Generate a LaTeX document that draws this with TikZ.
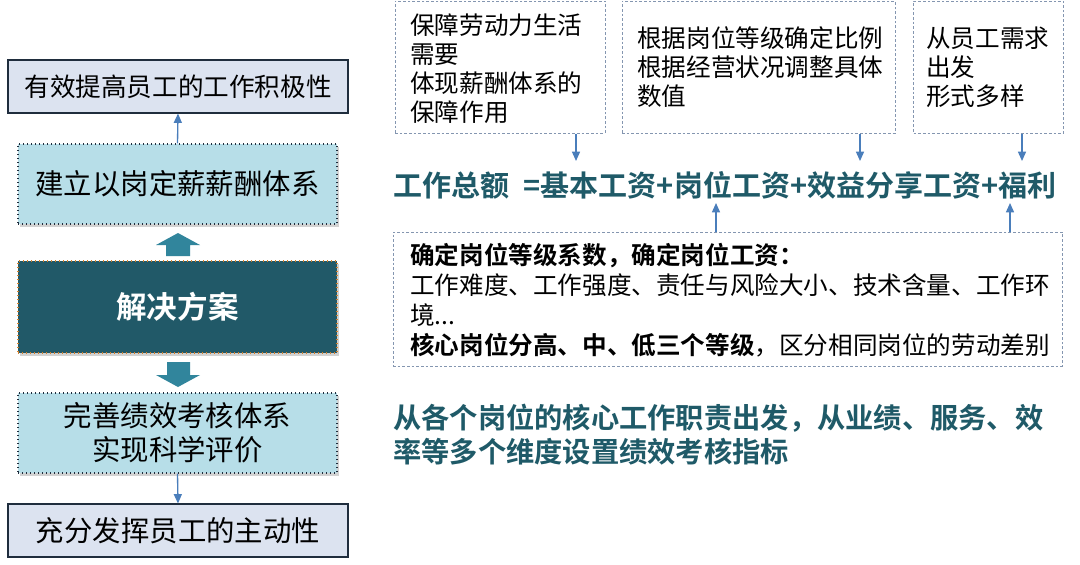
\documentclass[tikz,border=0pt]{standalone}
\usepackage{fontspec}
\setmainfont{Noto Sans CJK SC}[BoldFont={Noto Sans CJK SC Bold}]
\usetikzlibrary{arrows.meta,shadows}
\definecolor{darkteal}{HTML}{215968}
\definecolor{textteal}{HTML}{1F5A68}
\definecolor{blockarrow}{HTML}{31859C}
\definecolor{lightblue}{HTML}{B7DEE8}
\definecolor{lavender}{HTML}{DCE3F0}
\definecolor{thinblue}{HTML}{4A7EBB}
\definecolor{dashgray}{HTML}{8496B0}
\definecolor{boxline}{HTML}{1F2D3D}
\tikzset{
  outerbox/.style={rectangle, draw=boxline, line width=0.8pt, fill=lavender, inner sep=0pt,
    minimum width=255pt, minimum height=39.75pt, font=\fontsize{19.2}{22}\selectfont},
  innerbox/.style={rectangle, draw=boxline, dotted, line width=1pt, fill=lightblue, inner sep=0pt,
    minimum width=239.25pt, minimum height=60pt, align=center,
    font=\fontsize{21.3}{25.5}\selectfont,
    drop shadow={opacity=0.35, shadow xshift=1.5pt, shadow yshift=-2pt}},
  solbox/.style={rectangle, draw=brown!70!orange, dotted, line width=1pt, fill=darkteal, inner sep=0pt,
    minimum width=239.25pt, minimum height=69pt, text=white,
    font=\fontsize{22.9}{27}\selectfont\bfseries,
    drop shadow={opacity=0.35, shadow xshift=1.5pt, shadow yshift=-2pt}},
  dbox/.style={rectangle, draw=dashgray, dash pattern=on 2pt off 1.5pt, line width=0.75pt, inner sep=0pt},
  dtext/.style={anchor=west, align=left, inner sep=0pt, font=\fontsize{18.45}{21.75}\selectfont},
  thinarrow/.style={draw=thinblue, line width=1pt, -{Triangle[length=7pt,width=6pt]}},
  blockar/.style={fill=blockarrow, draw=none},
  tealtext/.style={text=textteal, inner sep=0pt, font=\fontsize{21.75}{25.5}\selectfont\bfseries}
}
\begin{document}
\begin{tikzpicture}[x=0.75pt,y=-0.75pt]
\useasboundingbox[fill=white] (0,0) rectangle (1080,564);

% left column
\node[outerbox] (b1) at (178,86.5) {有效提高员工的工作积极性};
\node[innerbox] (b2) at (177.5,184) {建立以岗定薪薪酬体系};
\node[solbox] (b3) at (177.5,307) {解决方案};
\node[innerbox] (b4) at (177.5,433) {完善绩效考核体系\\实现科学评价};
\node[outerbox, font=\fontsize{21.3}{25}\selectfont] (b5) at (178,530.5) {充分发挥员工的主动性};

\draw[thinarrow] (b2.north) -- (b1.south);
\draw[thinarrow] (b4.south) -- (b5.north);

% block arrows
\fill[blockar] (166,256) -- (190,256) -- (190,245) -- (200,245) -- (178,233) -- (156,245) -- (166,245) -- cycle;
\fill[blockar] (167,362) -- (190,362) -- (190,375) -- (200,375) -- (178,387) -- (156,375) -- (167,375) -- cycle;

% right top dashed boxes
\node[dbox, minimum width=157.5pt, minimum height=99pt] (ba) at (500,67) {};
\node[dtext] (ta) at (410,68.5) {保障劳动力生活\\需要\\体现薪酬体系的\\保障作用};
\node[dbox, minimum width=204.75pt, minimum height=99pt] (bb) at (758.5,67) {};
\node[dtext] (tb) at (637,67.5) {根据岗位等级确定比例\\根据经营状况调整具体\\数值};
\node[dbox, minimum width=112.5pt, minimum height=99pt] (bc) at (988.5,67) {};
\node[dtext] (tc) at (926,67.5) {从员工需求\\出发\\形式多样};

% formula
\node[tealtext, anchor=west] (formula) at (393,185) {工作总额\hspace{6pt} =基本工资+岗位工资+效益分享工资+福利};

\coordinate (fa) at (576,161);
\coordinate (fb) at (860,161);
\coordinate (fc) at (1022,161);
\draw[thinarrow] (ba.south -| fa) -- (fa);
\draw[thinarrow] (bb.south -| fb) -- (fb);
\draw[thinarrow] (bc.south -| fc) -- (fc);

% bottom dashed box
\node[dbox, minimum width=501.75pt, minimum height=100.5pt] (bd) at (727.5,299) {};
\node[dtext, font=\fontsize{18.45}{22.5}\selectfont] (td) at (410,300)
  {\textbf{确定岗位等级系数，确定岗位工资：}\\工作难度、工作强度、责任与风险大小、技术含量、工作环\\境...\\\textbf{核心岗位分高、中、低三个等级}，区分相同岗位的劳动差别};

\coordinate (ua) at (716,203);
\coordinate (ub) at (1010,203);
\draw[thinarrow] (bd.north -| ua) -- (ua);
\draw[thinarrow] (bd.north -| ub) -- (ub);

% bottom teal text
\node[tealtext, anchor=west, align=left, font=\fontsize{21.2}{25.5}\selectfont\bfseries] (perf) at (393,435)
  {从各个岗位的核心工作职责出发，从业绩、服务、效\\率等多个维度设置绩效考核指标};
\end{tikzpicture}
\end{document}
